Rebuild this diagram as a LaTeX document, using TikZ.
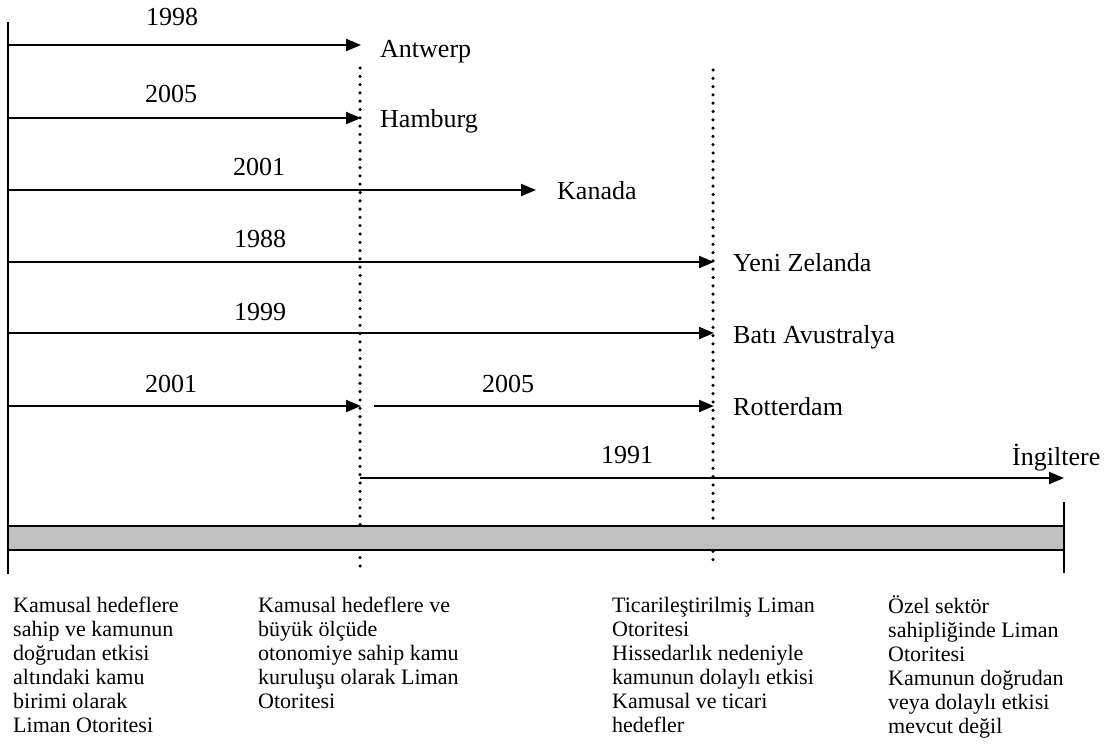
\documentclass[tikz,border=0pt]{standalone}
\usepackage{fontspec}
\setmainfont{Liberation Serif}
\usetikzlibrary{arrows.meta}
\definecolor{barfill}{RGB}{192,192,192}
\begin{document}
\begin{tikzpicture}[x=1pt,y=-1pt,
  every node/.style={inner sep=0pt},
  axis/.style={line width=1.6pt},
  span/.style={line width=2pt, -{Triangle[length=15pt,width=12pt]}},
  stage/.style={line width=3.5pt, line cap=round, dash pattern=on 0pt off 8.3pt},
  year/.style={anchor=base, font=\fontsize{26}{30}\selectfont},
  port/.style={anchor=base west, font=\fontsize{26}{30}\selectfont},
  desc/.style={anchor=base west, align=left, font=\fontsize{22}{24}\selectfont}]
\useasboundingbox (0,0) rectangle (1113,751);

% stage separators
\draw[stage] (360,68) coordinate (d1top) -- (360,566) coordinate (d1bot);
\draw[stage] (713,70) coordinate (d2top) -- (713,566) coordinate (d2bot);

% ownership scale bar
\draw[line width=2pt, fill=barfill] (8,526) rectangle (1064,550);
\draw[axis] (8,22) coordinate (axtop) -- (8,574) coordinate (axbot);
\draw[axis] (1064,502) coordinate (rtop) -- (1064,573) coordinate (rbot);

% destinations
\node[port] (ant) at (380,58) {Antwerp};
\node[port] (ham) at (380,128) {Hamburg};
\node[port] (kan) at (557,200) {Kanada};
\node[port] (yz)  at (733,272) {Yeni Zelanda};
\node[port] (ba)  at (733,343) {Batı Avustralya};
\node[port] (rot) at (733,415) {Rotterdam};
\node[port] (ing) at (1012,465) {İngiltere};

% start and end points of the transitions
\coordinate (s1) at (8,45);   \coordinate (e1) at (361,45);
\coordinate (s2) at (8,118);  \coordinate (e2) at (361,118);
\coordinate (s3) at (8,190);  \coordinate (e3) at (536,190);
\coordinate (s4) at (8,262);  \coordinate (e4) at (714,262);
\coordinate (s5) at (8,333);  \coordinate (e5) at (714,333);
\coordinate (s6) at (8,406);  \coordinate (e6) at (361,406);
\coordinate (s7) at (374,406); \coordinate (e7) at (714,406);
\coordinate (s8) at (360,478); \coordinate (e8) at (1064,478);

\draw[span] (s1) -- (e1);
\draw[span] (s2) -- (e2);
\draw[span] (s3) -- (e3);
\draw[span] (s4) -- (e4);
\draw[span] (s5) -- (e5);
\draw[span] (s6) -- (e6);
\draw[span] (s7) -- (e7);
\draw[span] (s8) -- (e8);

% years
\node[year] (y1) at (172,26)  {1998};
\node[year] (y2) at (171,103) {2005};
\node[year] (y3) at (259,176) {2001};
\node[year] (y4) at (260,248) {1988};
\node[year] (y5) at (260,320) {1999};
\node[year] (y6) at (171,392) {2001};
\node[year] (y7) at (508,392) {2005};
\node[year] (y8) at (627,463) {1991};

% stage descriptions (placed by the baseline of their last line)
\node[desc] (c1) at (13,732) {Kamusal hedeflere\\sahip ve kamunun\\doğrudan etkisi\\altındaki kamu\\birimi olarak\\Liman Otoritesi};
\node[desc] (c2) at (258,708) {Kamusal hedeflere ve\\büyük ölçüde\\otonomiye sahip kamu\\kuruluşu olarak Liman\\Otoritesi};
\node[desc] (c3) at (612,732) {Ticarileştirilmiş Liman\\Otoritesi\\Hissedarlık nedeniyle\\kamunun dolaylı etkisi\\Kamusal ve ticari\\hedefler};
\node[desc] (c4) at (888,733) {Özel sektör\\sahipliğinde Liman\\Otoritesi\\Kamunun doğrudan\\veya dolaylı etkisi\\mevcut değil};
\end{tikzpicture}
\end{document}
